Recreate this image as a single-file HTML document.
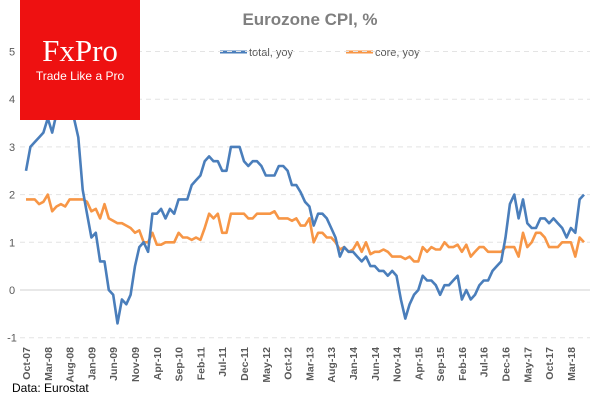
<!DOCTYPE html>
<html><head><meta charset="utf-8"><style>
body{margin:0;background:#fff;width:600px;height:400px;overflow:hidden;font-family:"Liberation Sans",sans-serif}
</style></head><body>
<svg id="chart" width="600" height="400" xmlns="http://www.w3.org/2000/svg" style="position:absolute;left:0;top:0">
<text x="310" y="25" text-anchor="middle" font-family="Liberation Sans, sans-serif" font-size="17" font-weight="bold" fill="#7f7f7f">Eurozone  CPI, %</text>
<g>
<line x1="220" y1="52" x2="247" y2="52" stroke="#4a7ebb" stroke-width="3"/>
<text x="249" y="56" font-size="11" fill="#595959">total, yoy</text>
<line x1="346" y1="52" x2="373" y2="52" stroke="#f79646" stroke-width="3"/>
<text x="375" y="56" font-size="11" fill="#595959">core, yoy</text>
</g>
<g id="grid"></g><g id="yl"></g><g id="xl"></g><g id="series"></g>
<g>
<rect x="20" y="0" width="120" height="120" fill="#ee1111"/>
<text x="80" y="61" text-anchor="middle" font-family="Liberation Serif, serif" font-size="31" fill="#fff">FxPro</text>
<text x="80" y="80" text-anchor="middle" font-size="12" fill="#fff">Trade Like a Pro</text>
</g>
<text x="12" y="392" font-size="12" fill="#000">Data: Eurostat</text>
</svg>
<script>
const totalYoy=[2.5,3.0,3.1,3.2,3.3,3.6,3.3,3.7,4.0,4.0,3.8,3.6,3.2,2.1,1.6,1.1,1.2,0.6,0.6,0.0,-0.1,-0.7,-0.2,-0.3,-0.1,0.5,0.9,1.0,0.8,1.6,1.6,1.7,1.5,1.7,1.6,1.9,1.9,1.9,2.2,2.3,2.4,2.7,2.8,2.7,2.7,2.5,2.5,3.0,3.0,3.0,2.7,2.6,2.7,2.7,2.6,2.4,2.4,2.4,2.6,2.6,2.5,2.2,2.2,2.05,1.85,1.75,1.35,1.6,1.6,1.5,1.3,1.1,0.7,0.9,0.8,0.8,0.7,0.6,0.7,0.5,0.5,0.4,0.4,0.3,0.4,0.3,-0.2,-0.6,-0.3,-0.1,0.0,0.3,0.2,0.2,0.1,-0.1,0.1,0.1,0.2,0.3,-0.2,0.0,-0.2,-0.1,0.1,0.2,0.2,0.4,0.5,0.6,1.1,1.8,2.0,1.5,1.9,1.4,1.3,1.3,1.5,1.5,1.4,1.5,1.4,1.3,1.1,1.3,1.2,1.9,2.0];
const coreYoy=[1.9,1.9,1.9,1.8,1.85,2.0,1.65,1.75,1.8,1.75,1.9,1.9,1.9,1.9,1.85,1.65,1.7,1.5,1.8,1.5,1.45,1.4,1.4,1.35,1.3,1.2,1.25,1.0,1.0,1.2,0.95,0.95,1.0,1.0,1.0,1.2,1.1,1.1,1.05,1.1,1.05,1.3,1.6,1.5,1.6,1.2,1.2,1.6,1.6,1.6,1.6,1.5,1.5,1.6,1.6,1.6,1.6,1.65,1.5,1.5,1.5,1.45,1.5,1.35,1.35,1.5,1.0,1.2,1.2,1.1,1.1,1.0,0.85,0.9,0.8,0.85,1.0,0.8,1.0,0.75,0.8,0.8,0.85,0.8,0.7,0.7,0.7,0.65,0.7,0.6,0.6,0.9,0.8,0.9,0.85,0.85,1.0,0.9,0.9,0.95,0.8,0.95,0.7,0.8,0.9,0.9,0.8,0.8,0.8,0.8,0.9,0.9,0.9,0.7,1.2,0.9,1.0,1.2,1.2,1.1,0.9,0.9,0.9,1.0,1.0,1.0,0.7,1.1,1.0];
const tickLabels=["Oct-07","Mar-08","Aug-08","Jan-09","Jun-09","Nov-09","Apr-10","Sep-10","Feb-11","Jul-11","Dec-11","May-12","Oct-12","Mar-13","Aug-13","Jan-14","Jun-14","Nov-14","Apr-15","Sep-15","Feb-16","Jul-16","Dec-16","May-17","Oct-17","Mar-18"];
const yTicks=[-1,0,1,2,3,4,5];
const NS="http://www.w3.org/2000/svg";
const xs=i=>26+i*(558/128);
const ys=v=>290-v*47.7;
function mk(tag,attrs,parent){const e=document.createElementNS(NS,tag);for(const k in attrs)e.setAttribute(k,attrs[k]);document.getElementById(parent).appendChild(e);return e;}
yTicks.forEach(v=>{
  const g=mk('line',{x1:20,x2:590,y1:ys(v),y2:ys(v),stroke:v===0?'#d0d0d0':'#e4e4e4','stroke-width':1,'stroke-dasharray':v===0?'none':'5,4'},'grid');
  
  
  const t=mk('text',{x:12,y:ys(v)+4,'text-anchor':'middle','font-size':11,fill:'#595959'},'yl');
  t.textContent=v;
  
  
});
tickLabels.forEach((lab,k)=>{
  const x=xs(k*5)+4;
  const t=mk('text',{x:x,y:347,transform:`rotate(-90 ${x} 347)`,'text-anchor':'end','font-size':10.5,'font-weight':'bold',fill:'#595959'},'xl');
  t.textContent=lab;
  
  
});
function line(arr,color,name){
  const d=arr.map((v,i)=>(i?'L':'M')+xs(i).toFixed(1)+','+ys(v).toFixed(1)).join('');
  const p=mk('path',{d:d,fill:'none',stroke:color,'stroke-width':2.6,'stroke-linejoin':'round'},'series');
  
  
}
line(coreYoy,'#f79646','core-yoy-line');
line(totalYoy,'#4a7ebb','total-yoy-line');
</script>
</body></html>
